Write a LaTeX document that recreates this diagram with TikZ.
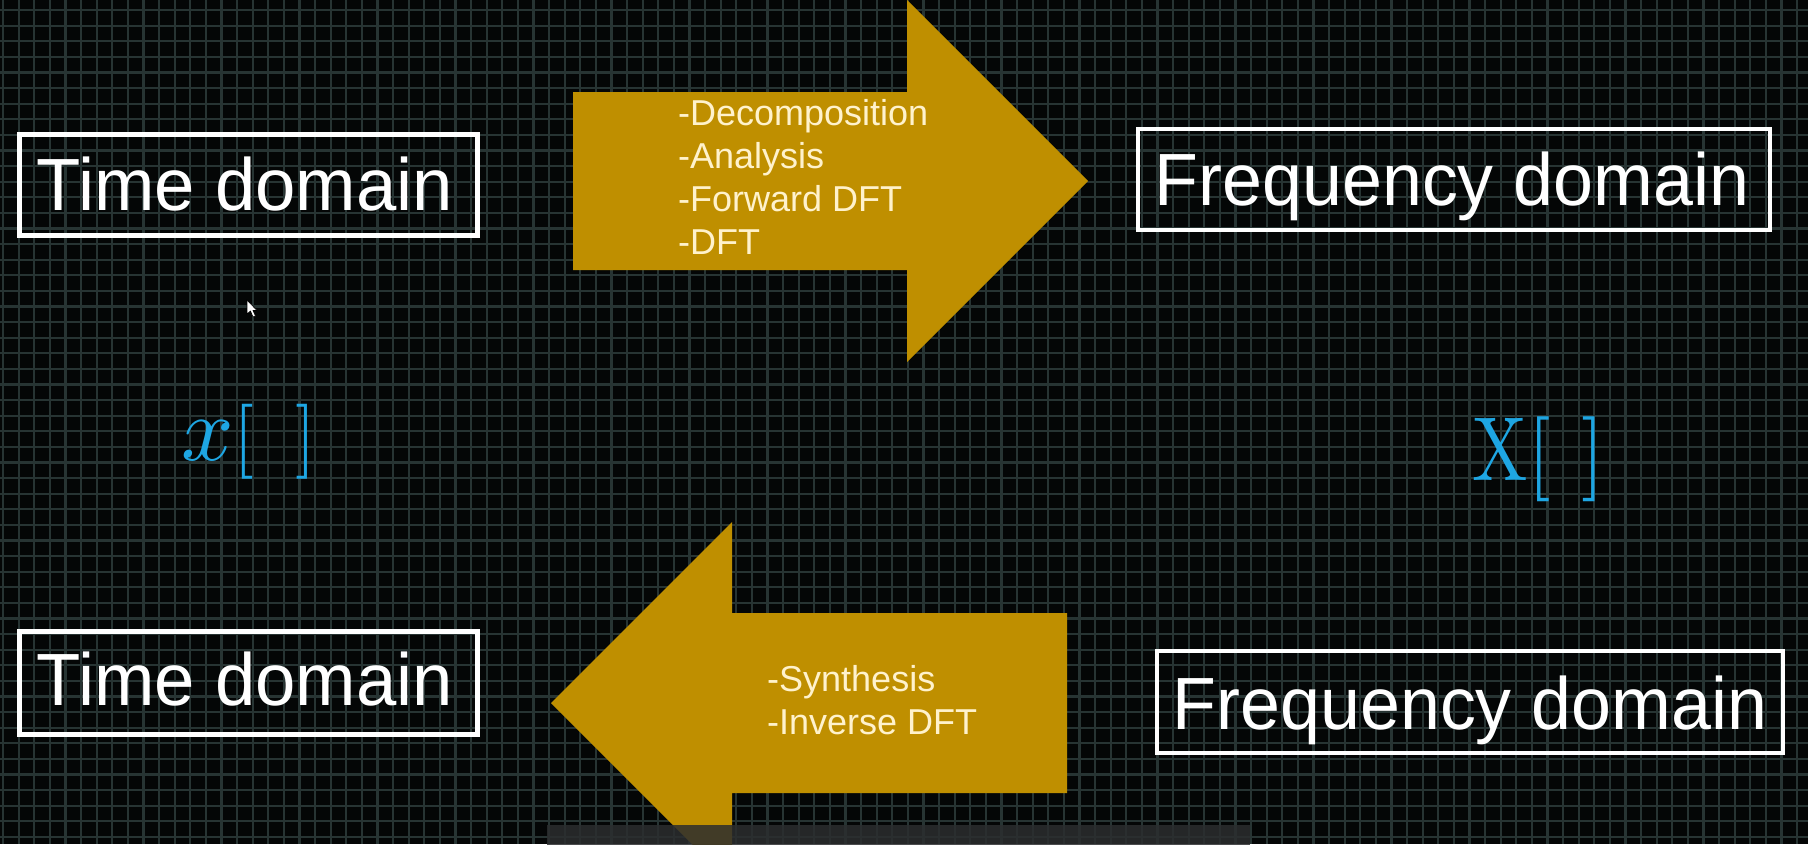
\documentclass[tikz,border=0pt]{standalone}
\usepackage[no-math]{fontspec}
\setmainfont{Liberation Sans}
\definecolor{bg}{HTML}{040606}
\definecolor{gridc}{HTML}{273433}
\definecolor{gold}{HTML}{BF8F00}
\definecolor{cream}{HTML}{FFF2CC}
\definecolor{sigblue}{HTML}{1EA6E3}
\definecolor{barc}{HTML}{2B2D2F}
\begin{document}
\begin{tikzpicture}[x=1pt,y=-1pt,
  gridline/.style={draw=gridc, line width=2.2pt},
  domainbox/.style={draw=white, line width=4.5pt, inner sep=0pt},
  domaintxt/.style={text=white, font=\fontsize{74}{80}\selectfont, anchor=base, inner sep=0pt},
  listtxt/.style={text=cream, font=\fontsize{36}{43}\selectfont, anchor=base west, inner sep=0pt},
  signal/.style={text=sigblue, anchor=base west, inner sep=0pt},
  bigarrow/.style={fill=gold}]
\useasboundingbox (0,0) rectangle (1808,844);
\begin{scope}
  \clip (0,0) rectangle (1808,844);
  % background with grid
  \fill[bg] (0,0) rectangle (1808,844);
  \foreach \i in {0,...,116} \draw[gridline] ({3+15.6*\i},0) -- ({3+15.6*\i},844);
  \foreach \j in {0,...,54} \draw[gridline] (0,{10+15.6*\j}) -- (1808,{10+15.6*\j});
  % forward arrow
  \fill[bigarrow] (573,92) -- (907,92) -- (907,0) -- (1088,181) -- (907,362) -- (907,270) -- (573,270) -- cycle;
  % inverse arrow
  \fill[bigarrow] (1067,613) -- (732,613) -- (732,522) -- (551,703) -- (732,884) -- (732,793) -- (1067,793) -- cycle;
  % caption bar at the bottom edge
  \fill[barc, opacity=0.85] (547,825) rectangle (1250,850);
\end{scope}

% domain boxes
\node[domainbox, minimum width=458pt, minimum height=101pt] (tdTop) at (248.5,185) {};
\node[domainbox, minimum width=632pt, minimum height=101pt] (fdTop) at (1454,179.5) {};
\node[domainbox, minimum width=458pt, minimum height=103pt] (tdBot) at (248.5,683) {};
\node[domainbox, minimum width=626pt, minimum height=102pt] (fdBot) at (1470,702) {};

\node[domaintxt] (tdTopL) at (245,210) {\scalebox{0.98}[1]{Time domain}};
\node[domaintxt] (fdTopL) at (1452,205) {\scalebox{0.97}[1]{Frequency domain}};
\node[domaintxt] (tdBotL) at (245,705) {\scalebox{0.98}[1]{Time domain}};
\node[domaintxt] (fdBotL) at (1470,729) {\scalebox{0.97}[1]{Frequency domain}};

% arrow labels
\node[listtxt] (fw1) at (678,125) {-Decomposition};
\node[listtxt] (fw2) at (678,168) {-Analysis};
\node[listtxt] (fw3) at (678,211) {-Forward DFT};
\node[listtxt] (fw4) at (678,254) {-DFT};
\node[listtxt] (iv1) at (767,691) {-Synthesis};
\node[listtxt] (iv2) at (767,734) {-Inverse DFT};

% signal names
\node[signal] (xs) at (181,460) {\scalebox{9.2}{$x$}\scalebox{7.5}{$[\hspace{0.55em}]$}};
\node[signal] (Xs) at (1472,480) {\scalebox{7.4}[9.1]{$\mathrm{X}$}\scalebox{8.5}{$[\hspace{0.36em}]$}};

% mouse pointer
\filldraw[fill=white, draw=black, line width=0.6pt] (247,300) -- (247,314) -- (250.5,311) -- (253,317) -- (255.5,316) -- (253,310.5) -- (257,310.5) -- cycle;
\end{tikzpicture}
\end{document}
